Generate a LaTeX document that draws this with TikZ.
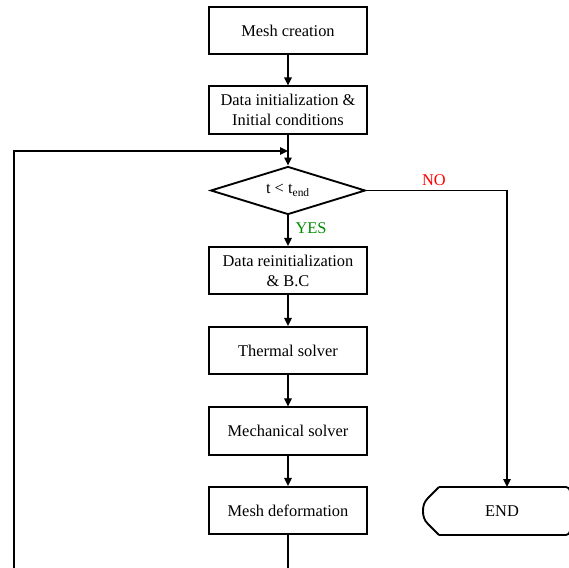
\documentclass[tikz,border=0pt]{standalone}
\usepackage{fontspec}
\setmainfont{Liberation Serif}
\usetikzlibrary{arrows.meta,shapes.geometric}

\begin{document}
\begin{tikzpicture}[x=0.75pt, y=-0.75pt,
    box/.style={draw, line width=1.4pt, minimum width=118.5pt, minimum height=35.5pt, align=center, inner sep=2pt, font=\fontsize{12.3}{15}\selectfont},
    decision/.style={draw, diamond, line width=1.4pt, minimum width=116pt, minimum height=36pt, aspect=3, inner sep=0pt, font=\fontsize{12.3}{15}\selectfont},
    lbl/.style={inner sep=0pt, font=\fontsize{12.3}{15}\selectfont},
    arr/.style={line width=1.3pt, -{Triangle[length=6pt, width=5.5pt]}},
]
\clip (0,0) rectangle (569,568);

% Boxes
\node[box] (mesh) at (288,30.5) {Mesh creation};
\node[box] (init) at (288,110) {Data initialization \&\\Initial conditions};
\node[decision] (check) at (288,190.5) {t < t\textsubscript{end}};
\node[box] (reinit) at (288,270.5) {Data reinitialization\\\& B.C};
\node[box] (thermal) at (288,350.5) {Thermal solver};
\node[box] (mech) at (288,431) {Mechanical solver};
\node[box] (deform) at (288,510.5) {Mesh deformation};

% End terminal
\node[lbl] (stop) at (502,511) {END};
\draw[line width=1.4pt, rounded corners=3pt] (439,487) -- (570,487) -- (570,535) -- (439,535);
\draw[line width=1.4pt] (439,487) -- (428,498) .. controls (424,502) and (423,506) .. (423,511)
    .. controls (423,516) and (424,520) .. (428,524) -- (439,535);
\coordinate (stopin) at (507,487);

% Arrows
\draw[arr] (mesh) -- (init);
\draw[arr] (init) -- (check);
\draw[arr] (check) -- (reinit) node[lbl, pos=0.42, right=5pt, text={rgb,255:red,0;green,140;blue,0}] (yes) {YES};
\draw[arr] (reinit) -- (thermal);
\draw[arr] (thermal) -- (mech);
\draw[arr] (mech) -- (deform);
\draw[arr] (check.east) -| (stopin);
\node[lbl, text=red] (no) at (434,180) {NO};

% Loop back
\coordinate (loopbot) at (14,600);
\coordinate (looptop) at (14,151);
\draw[arr] (deform.south) |- (loopbot) -- (looptop) -- (looptop -| check.north);
\end{tikzpicture}
\end{document}
